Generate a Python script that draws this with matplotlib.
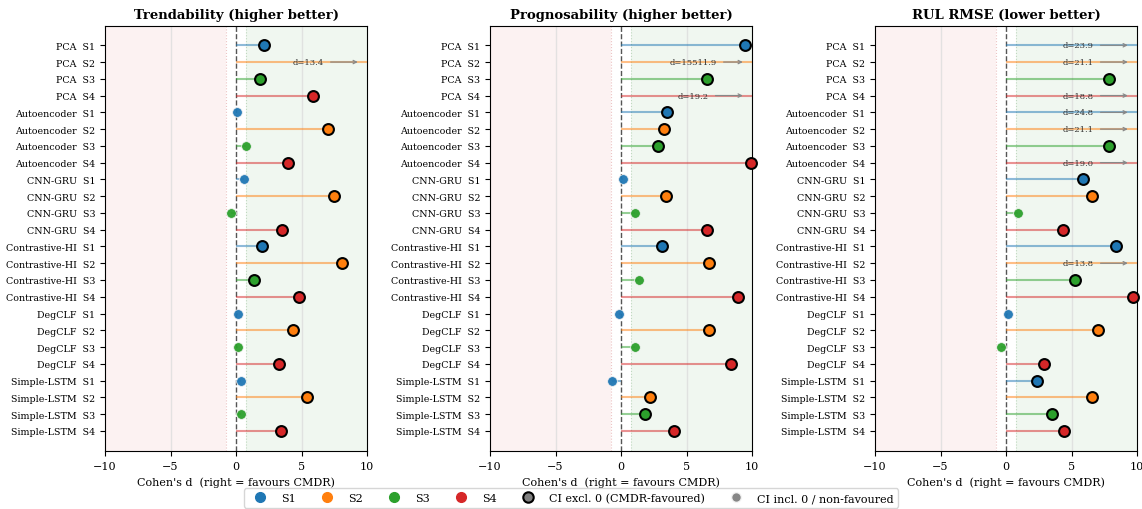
import matplotlib
matplotlib.use("Agg")
import matplotlib.pyplot as plt
from matplotlib.lines import Line2D
import numpy as np

plt.rcParams['font.family'] = ['DejaVu Serif']

methods = ["PCA", "Autoencoder", "CNN-GRU", "Contrastive-HI", "DegCLF", "Simple-LSTM"]
scenarios = ["S1", "S2", "S3", "S4"]

titles = ["Trendability (higher better)", "Prognosability (higher better)", "RUL RMSE (lower better)"]

# Cohen's d per method x scenario (row order: method, then S1..S4)
trend_d = [2.1, 13.4, 1.8, 5.9,
           0.1, 7.0, 0.8, 4.0,
           0.6, 7.5, -0.4, 3.5,
           2.0, 8.1, 1.4, 4.8,
           0.15, 4.35, 0.15, 3.25,
           0.4, 5.4, 0.4, 3.45]
trend_sig = [1, 1, 1, 1,
             0, 1, 0, 1,
             0, 1, 0, 1,
             1, 1, 1, 1,
             0, 1, 0, 1,
             0, 1, 0, 1]

progn_d = [9.5, 15511.9, 6.6, 19.2,
           3.5, 3.25, 2.8, 9.9,
           0.13, 3.4, 1.1, 6.55,
           3.1, 6.7, 1.4, 8.9,
           -0.15, 6.7, 1.1, 8.4,
           -0.65, 2.2, 1.8, 4.05]
progn_sig = [1, 1, 1, 1,
             1, 1, 1, 1,
             0, 1, 0, 1,
             1, 1, 0, 1,
             0, 1, 0, 1,
             0, 1, 1, 1]

rmse_d = [23.9, 21.1, 7.85, 18.8,
          24.8, 21.1, 7.9, 19.0,
          5.85, 6.55, 0.9, 4.35,
          8.4, 13.8, 5.25, 9.7,
          0.15, 7.0, -0.35, 2.9,
          2.4, 6.55, 3.5, 4.45]
rmse_sig = [1, 1, 1, 1,
            1, 1, 1, 1,
            1, 1, 0, 1,
            1, 1, 1, 1,
            0, 1, 0, 1,
            1, 1, 1, 1]

all_d = [trend_d, progn_d, rmse_d]
all_sig = [trend_sig, progn_sig, rmse_sig]

colors = {"S1": "#1f77b4", "S2": "#ff7f0e", "S3": "#2ca02c", "S4": "#d62728"}

labels = [f"{m}  {s}" for m in methods for s in scenarios]
scen_of_row = [s for m in methods for s in scenarios]
n = len(labels)
ypos = np.arange(n)

XMAX = 10
fig = plt.figure(figsize=(11.42, 5.10), dpi=100)
lefts = [105 / 1142, 490 / 1142, 875 / 1142]
for k in range(3):
    ax = fig.add_axes([lefts[k], 58 / 510, 262 / 1142, 425 / 510])
    ax.axvspan(-XMAX, -0.8, color="#fbeaea", alpha=0.6, zorder=0, lw=0)
    ax.axvspan(0.8, XMAX, color="#e3f0e3", alpha=0.5, zorder=0, lw=0)
    ax.axvline(-0.8, color="#ecc4c4", ls=":", lw=0.8, zorder=1)
    ax.axvline(0.8, color="#c0d8c0", ls=":", lw=0.8, zorder=1)
    for gx in (-5, 5):
        ax.axvline(gx, color="#dddddd", lw=1.0, alpha=0.8, zorder=1)
    ax.axvline(0, color="#555555", ls="--", lw=1.0, zorder=2)

    d = all_d[k]
    sig = all_sig[k]
    for i in range(n):
        c = colors[scen_of_row[i]]
        v = d[i]
        vv = min(v, XMAX)
        ax.plot([0, vv], [i, i], color=c, lw=1.5, alpha=0.5, zorder=3, solid_capstyle="butt")
        if v > XMAX:
            ax.annotate(f"d={v:.1f}", xy=(9.3, i), xytext=(5.5, i), ha="center", va="center",
                        fontsize=6, color="#333333", zorder=6,
                        arrowprops=dict(arrowstyle="->", color="#888888", lw=0.9, shrinkA=3, shrinkB=0))
        else:
            if sig[i]:
                ax.plot(v, i, "o", color=c, ms=7.8, mec="black", mew=1.5, zorder=5, clip_on=False)
            else:
                ax.plot(v, i, "o", color=c, ms=7.0, mec="#f4f4f4", mew=0.6, alpha=0.95, zorder=4)

    ax.set_xlim(-XMAX, XMAX)
    ax.set_ylim(n - 1 + 1.2, -1.15)
    ax.set_yticks(ypos)
    ax.set_yticklabels(labels, fontsize=6.8)
    ax.set_xticks([-10, -5, 0, 5, 10])
    ax.tick_params(axis="x", labelsize=8)
    ax.set_xlabel("Cohen's d  (right = favours CMDR)", fontsize=8)
    ax.set_title(titles[k], fontsize=9.5, fontweight="bold")

handles = [Line2D([], [], marker="o", ls="", color=colors[s], ms=7, label=s) for s in scenarios]
handles.append(Line2D([], [], marker="o", ls="", color="#808080", mec="black", mew=1.5, ms=7.5, label="CI excl. 0 (CMDR-favoured)"))
handles.append(Line2D([], [], marker="o", ls="", color="#808080", mec="#f4f4f4", alpha=0.95, ms=7, label="CI incl. 0 / non-favoured"))
fig.legend(handles=handles, loc="lower center", bbox_to_anchor=(0.5, -0.008), ncol=6, fontsize=8,
           frameon=True, columnspacing=1.8, handletextpad=0.9, borderpad=0.4)

fig.savefig("out.png", dpi=100)
